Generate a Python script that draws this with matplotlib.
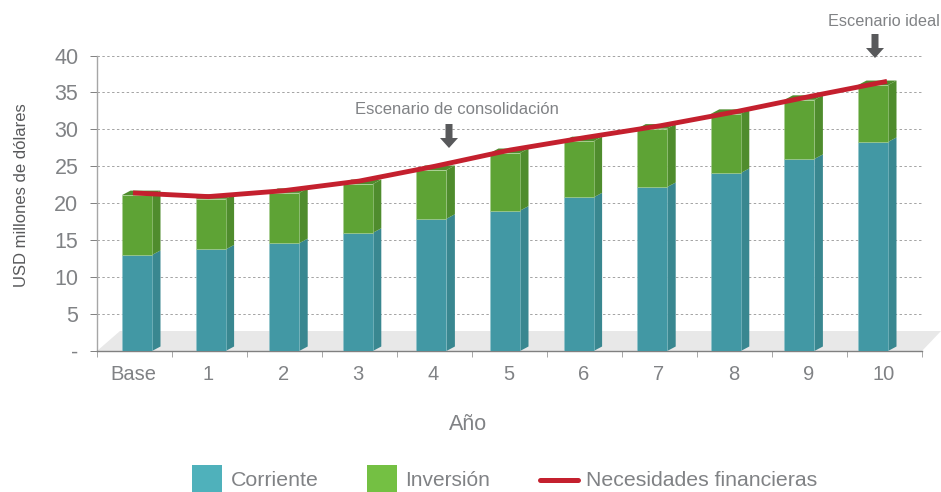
import matplotlib
matplotlib.use('Agg')
import matplotlib.pyplot as plt
from matplotlib.patches import Polygon, Rectangle
from matplotlib.lines import Line2D

categories = ['Base', '1', '2', '3', '4', '5', '6', '7', '8', '9', '10']
corriente = [13.0, 13.75, 14.6, 16.0, 17.9, 19.0, 20.8, 22.2, 24.1, 26.0, 28.3]
total = [21.1, 20.6, 21.4, 22.6, 24.5, 26.8, 28.4, 30.1, 32.1, 34.0, 36.0]
inversion = [t - c for t, c in zip(total, corriente)]
necesidades = [21.4, 20.9, 21.7, 23.0, 25.0, 27.2, 28.9, 30.5, 32.4, 34.5, 36.5]
y_ticks = [0, 5, 10, 15, 20, 25, 30, 35, 40]
y_labels = ['-', '5', '10', '15', '20', '25', '30', '35', '40']

W, H = 941, 492
plt.rcParams['font.family'] = ['Liberation Sans', 'DejaVu Sans']
TXT = '#808285'
TEAL, TEAL_D = '#4298a4', '#398790'
GREEN, GREEN_D = '#5ea335', '#4f8c2d'
RED = '#c4202e'

# helpers, pixel position -> figure fraction
def fx(px):
    return px / W

def fy(py):
    return 1 - py / H

fig = plt.figure(figsize=(W / 100, H / 100), dpi=100)
ax = fig.add_axes([fx(97), fy(351), (922 - 97) / W, (351 - 55.5) / H])
ax.set_xlim(-0.5, 10.5)
ax.set_ylim(0, 40)
ax.patch.set_visible(False)

ux = 75.0  # px per category
uy = (351 - 55.5) / 40  # px per unit

# floor
ax.add_patch(Polygon([(-0.5, 0), (-0.5 + 23 / ux, 20 / uy), (10.5 + 19 / ux, 20 / uy), (10.5, 0)],
                     closed=True, fc='#e8e8e8', ec='none', clip_on=False, zorder=0))

for y in y_ticks[1:]:
    ax.plot([-0.5, 10.5], [y, y], color='#a3a3a3', lw=0.7, dashes=(2.5, 2.5), zorder=1)

# bars, drawn a bit tighter than the category ticks
pitch = 73.6 / ux
offset = 2.5 / ux
bw = 30.0 / ux
dx = 8.5 / ux
dy = 4.5 / uy
xs = [offset + i * pitch for i in range(len(categories))]

ax.bar(xs, corriente, width=bw, color=TEAL, edgecolor='#8fc4cb', linewidth=0.4, zorder=3)
ax.bar(xs, inversion, width=bw, bottom=corriente, color=GREEN, edgecolor='#a9cf92', linewidth=0.4, zorder=3)

for x, c, t in zip(xs, corriente, total):
    r = x + bw / 2
    l = x - bw / 2
    ax.add_patch(Polygon([(r, 0), (r + dx, dy), (r + dx, c + dy), (r, c)], fc=TEAL_D, ec='none', zorder=2, clip_on=False))
    ax.add_patch(Polygon([(r, c), (r + dx, c + dy), (r + dx, t + dy), (r, t)], fc=GREEN_D, ec='none', zorder=2, clip_on=False))
    ax.add_patch(Polygon([(l, t), (l + dx, t + dy), (r + dx, t + dy), (r, t)], fc=GREEN_D, ec='none', zorder=2, clip_on=False))

# line runs slightly wider than the bars
line_x = [-1.5 / ux + i * 75.4 / ux for i in range(len(categories))]
ax.plot(line_x, necesidades, color=RED, lw=3.5, solid_capstyle='butt', solid_joinstyle='round', zorder=5, clip_on=False)

for side in ['top', 'right']:
    ax.spines[side].set_visible(False)
ax.spines['left'].set_color('#a6a6a6')
ax.spines['bottom'].set_color('#808080')
ax.spines['left'].set_linewidth(1.0)
ax.spines['bottom'].set_linewidth(1.0)

ax.set_yticks(y_ticks)
ax.set_yticklabels(y_labels, fontsize=15.5, color=TXT)
ax.tick_params(axis='y', length=5, width=0.7, color='#808080', pad=8.5)
ax.set_xticks([i - 0.5 for i in range(12)])
ax.set_xticklabels([])
ax.tick_params(axis='x', length=4, width=0.7, color='#a6a6a6')

for i, lab in enumerate(categories):
    fig.text(fx(133 + i * 75.1), fy(375), lab, fontsize=14.5, color=TXT, ha='center', va='center')

fig.text(fx(22), fy(195), 'USD millones de dólares', fontsize=12, color='#58595b',
         rotation=90, ha='center', va='center')
fig.text(fx(468), fy(424), 'Año', fontsize=15.5, color=TXT, ha='center', va='center')

fig.text(fx(457), fy(110), 'Escenario de consolidación', fontsize=12, color=TXT, ha='center', va='center')
fig.text(fx(940), fy(21), 'Escenario ideal', fontsize=11.7, color=TXT, ha='right', va='center')

# down arrows, shaft and head in pixels
for cx, y0, y1 in [(449, 124, 148), (875, 34, 58)]:
    arrow_px = [(cx - 3.5, y0), (cx + 3.5, y0), (cx + 3.5, y1 - 10), (cx + 9, y1 - 10), (cx, y1),
                (cx - 9, y1 - 10), (cx - 3.5, y1 - 10)]
    fig.patches.append(Polygon([(fx(a), fy(b)) for a, b in arrow_px], fc='#58595b', ec='none',
                               transform=fig.transFigure))

# legend
for x0, x1, col in [(192, 222, '#4fb1bb'), (367, 397, '#74c043')]:
    fig.patches.append(Rectangle((fx(x0), fy(492)), (x1 - x0) / W, 27 / H, fc=col, ec='none',
                                 transform=fig.transFigure))
fig.lines.append(Line2D([fx(540), fx(578)], [fy(480), fy(480)], color=RED, lw=3.6, solid_capstyle='round',
                        transform=fig.transFigure))
fig.text(fx(231), fy(480), 'Corriente', fontsize=15.4, color=TXT, va='center')
fig.text(fx(405), fy(480), 'Inversión', fontsize=15, color=TXT, va='center')
fig.text(fx(586), fy(480), 'Necesidades financieras', fontsize=15.3, color=TXT, va='center')

fig.savefig('out.png', dpi=100)
